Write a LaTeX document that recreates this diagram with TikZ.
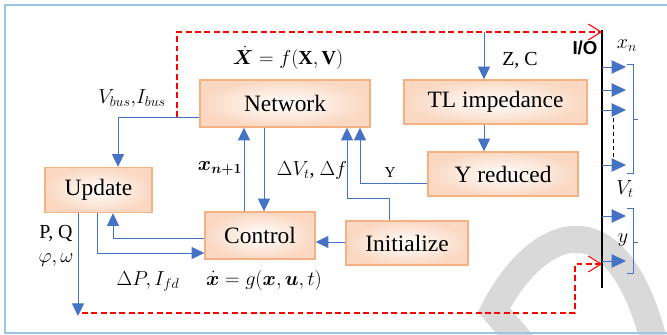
\documentclass[tikz,border=0pt]{standalone}
\usepackage{amsmath,amssymb,bm}
\usepackage{fontspec}
\setmainfont{Liberation Serif}
\setsansfont{Liberation Sans}
\usetikzlibrary{arrows.meta,positioning,calc}
\definecolor{boxline}{HTML}{F4B183}
\definecolor{boxfill}{HTML}{F8CBAD}
\definecolor{wireblue}{HTML}{4472C4}
\definecolor{frameblue}{HTML}{9DC3E6}
\tikzset{
    blk/.style={draw=boxline,line width=1.2pt,inner color=white,outer color=boxfill!75,font=\fontsize{20}{24}\selectfont},
    arrow/.style={-{Triangle[length=3.8mm,width=3.6mm]},wireblue,line width=0.8pt},
    outarrow/.style={-{Triangle[length=4.3mm,width=4mm]},wireblue,line width=0.8pt},
    wire/.style={wireblue,line width=0.8pt},
    redarrow/.style={-{Straight Barb[length=3.8mm,width=4.8mm]},red,dash pattern=on 5pt off 3pt,line width=0.9pt},
    lbl/.style={font=\fontsize{17}{20}\selectfont,inner sep=0pt}
}

\begin{document}
\begin{tikzpicture}[x=0.03cm,y=-0.03cm]
    \useasboundingbox (0,0) rectangle (667,335);
    % watermark
    \begin{scope}
        \clip (0,0) rectangle (667,335);
        \draw[gray!30,line width=23pt,line join=miter] (528,350) -- (494,310) .. controls (536,228) and (618,190) .. (656,350);
    \end{scope}
    \draw[frameblue,line width=1.5pt] (5,5) rectangle (675,333);

    % blocks
    \node[blk,minimum width=5.1cm,minimum height=1.41cm] (net) at (285,103.5) {Network};
    \node[blk,minimum width=5.49cm,minimum height=1.32cm] (tl) at (495.5,102) {TL impedance};
    \node[blk,minimum width=4.5cm,minimum height=1.32cm] (yred) at (503,174) {Y reduced};
    \node[blk,minimum width=3.21cm,minimum height=1.35cm] (upd) at (98.5,190) {Update};
    \node[blk,minimum width=3.3cm,minimum height=1.41cm] (ctrl) at (260,235.5) {Control};
    \node[blk,minimum width=3.66cm,minimum height=1.32cm] (init) at (407,243) {Initialize};

    % I/O bar
    \coordinate (iotop) at (602,30);
    \coordinate (iobot) at (602,288);
    \draw[line width=2pt] (iotop) -- (iobot);
    \node[font=\sffamily\bfseries\fontsize{16}{18}\selectfont] (io) at (585,48) {I/O};

    % connectors
    \coordinate (vb) at (177,117);
    \coordinate (vu) at (118,117);
    \draw[arrow] (net.west |- vu) -| (vu |- upd.north);
    \draw[redarrow] (vb) |- (iotop |- 0,32);
    \coordinate (zc) at (484,32);
    \draw[arrow] (zc) -- (zc |- tl.north);
    \draw[arrow] (zc |- tl.south) -- (zc |- yred.north);
    \coordinate (yy) at (360,183);
    \draw[arrow] (yred.west |- yy) -| (yy |- net.south);
    \coordinate (ib) at (389,198);
    \coordinate (ii) at (347,198);
    \draw[arrow] (ib |- init.north) -- (ib) -- (ii) -- (ii |- net.south);
    \coordinate (xn) at (244,0);
    \draw[arrow] (xn |- ctrl.north) -- (xn |- net.south);
    \coordinate (dv) at (264,0);
    \draw[arrow] (dv |- net.south) -- (dv |- ctrl.north);
    \coordinate (cu) at (113,238);
    \draw[arrow] (ctrl.west |- cu) -| (cu |- upd.south);
    \coordinate (du) at (97,253);
    \draw[arrow] (du |- upd.south) |- (ctrl.west |- du);
    \coordinate (pq) at (78,316);
    \draw[arrow] (pq |- upd.south) -- (pq);
    \draw[arrow] (init.west |- 0,242) -- (ctrl.east |- 0,242);
    \coordinate (rb) at (82,313);
    \coordinate (rc) at (575,264);
    \draw[redarrow] (rb) -| (rc) -- (iotop |- rc);

    % outputs
    \foreach \y in {67,90,110,165,216,261} {\draw[outarrow] (iotop |- 0,\y) -- (626,\y);}
    \draw[dashed,line width=0.8pt] (613,118) -- (613,158);
    \draw[wire] (627,64) -- (633,64) -- (633,173) -- (627,173);
    \draw[wire] (633,119) -- (638,119);
    \draw[wire] (627,208) -- (633,208) -- (633,273) -- (627,273);
    \draw[wire] (633,242) -- (638,242);

    % labels
    \node[lbl] (fx) at (288,58) {$\dot{\bm{X}} = f(\mathbf{X},\mathbf{V})$};
    \node[lbl] (vbus) at (132,99) {$V_{bus}{,}I_{bus}$};
    \node[lbl] (zclbl) at (520,60) {Z, C};
    \node[lbl] (xnlbl) at (627,46) {$x_n$};
    \node[lbl] (vtlbl) at (625,189) {$V_t$};
    \node[lbl] (ylbl) at (623,240) {$y$};
    \node[lbl] (xn1) at (220,168) {$\bm{x}_{\bm{n+1}}$};
    \node[lbl] (dvlbl) at (312,170) {$\Delta V_t$, $\Delta f$};
    \node[lbl,font=\fontsize{13}{15}\selectfont] (ylink) at (390,173) {Y};
    \node[lbl] (pqlbl) at (56,234) {P, Q};
    \node[lbl] (phlbl) at (56,260) {$\varphi,\omega$};
    \node[lbl] (dplbl) at (148,281) {$\Delta P, I_{fd}$};
    \node[lbl] (gx) at (264,280) {$\dot{\bm{x}} = g(\bm{x},\bm{u},t)$};
\end{tikzpicture}
\end{document}
